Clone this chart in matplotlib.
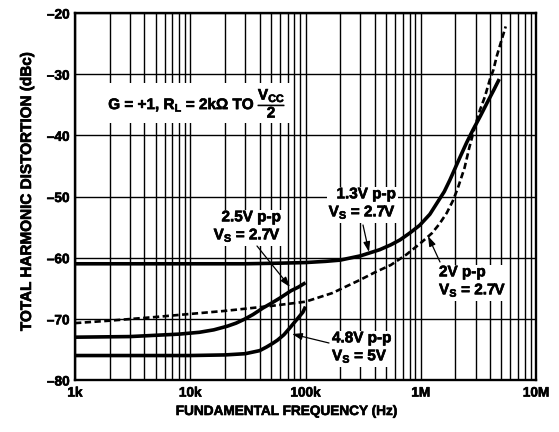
import numpy as np
import matplotlib
matplotlib.use("Agg")
import matplotlib.pyplot as plt
import matplotlib.patheffects as pe
from matplotlib.ticker import FixedLocator, NullFormatter, LogLocator

plt.rcParams['font.family'] = ['Liberation Sans', 'DejaVu Sans']
plt.rcParams['font.weight'] = 'bold'
plt.rcParams['mathtext.fontset'] = 'custom'
plt.rcParams['mathtext.rm'] = 'Liberation Sans:bold'
plt.rcParams['mathtext.it'] = 'Liberation Sans:bold'
plt.rcParams['mathtext.bf'] = 'Liberation Sans:bold'
plt.rcParams['mathtext.default'] = 'rm'

# ---- data ----
f_13 = [1e3, 1e4, 3e4, 6e4, 1e5, 1.5e5, 2e5, 3e5, 4.4e5, 5.5e5, 6.6e5, 8e5, 9.8e5, 1.2e6,
        1.38e6, 1.6e6, 1.79e6, 2.2e6, 2.5e6, 2.84e6, 3.3e6, 3.76e6, 4.3e6, 4.8e6]
thd_13 = [-61.0, -61.0, -61.0, -60.9, -60.8, -60.6, -60.4, -59.7, -58.7, -57.9, -57.1, -56.0,
          -54.7, -52.9, -51.1, -49.2, -47.3, -43.5, -41.2, -39.1, -36.8, -34.7, -32.6, -30.8]

f_2 = [1e3, 2e3, 5e3, 1e4, 2e4, 5e4, 1e5, 1.7e5, 2.2e5, 3e5, 4e5, 5.5e5, 7.5e5, 1e6, 1.25e6,
       1.45e6, 1.68e6, 1.9e6, 2.1e6, 2.4e6, 2.63e6, 2.95e6, 3.26e6, 3.6e6, 3.99e6, 4.27e6,
       4.56e6, 5.03e6, 5.46e6]
thd_2 = [-70.7, -70.3, -69.7, -69.2, -68.7, -67.9, -67.2, -65.8, -64.8, -63.6, -62.4, -61.2,
         -59.5, -57.6, -56.0, -54.5, -52.7, -50.7, -48.6, -45.3, -42.1, -38.6, -35.9, -33.7,
         -30.8, -29.3, -27.1, -24.4, -22.2]

f_25 = [1e3, 3e3, 8e3, 1.2e4, 1.6e4, 2.1e4, 2.5e4, 3e4, 3.5e4, 4.3e4, 5e4, 6e4, 7.5e4, 8.7e4, 1e5]
thd_25 = [-73.0, -72.9, -72.5, -72.2, -71.8, -71.2, -70.7, -70.0, -69.3, -68.2, -67.5, -66.6,
          -65.4, -64.8, -64.1]

f_48 = [1e3, 1e4, 2e4, 3e4, 4e4, 4.6e4, 5.2e4, 5.7e4, 6.5e4, 7.3e4, 8.5e4, 9.5e4, 1e5]
thd_48 = [-76.0, -76.0, -75.9, -75.7, -75.2, -74.6, -74.0, -73.5, -72.6, -71.5, -70.0, -68.9,
          -68.0]

x_ticks = [1e3, 1e4, 1e5, 1e6, 1e7]
x_labels = ['1k', '10k', '100k', '1M', '10M']
y_ticks = [-80, -70, -60, -50, -40, -30, -20]
y_labels = ['–80', '–70', '–60', '–50', '–40', '–30', '–20']

# ---- figure ----
W, H = 559, 432
fig = plt.figure(figsize=(W / 100, H / 100), dpi=100)
L, R, T, B = 75, 536, 13, 380
ax = fig.add_axes([L / W, 1 - B / H, (R - L) / W, (B - T) / H])
ax.set_xscale('log')
ax.set_xlim(1e3, 1e7)
ax.set_ylim(-80, -20)

def px(x, y):
    """Convert reference pixel position to data coordinates (for annotation placement)."""
    f = 10 ** (3 + 4 * (x - L) / (R - L))
    d = -20 - 60 * (y - T) / (B - T)
    return f, d

heavy = [pe.withStroke(linewidth=0.45, foreground='black')]

ax.xaxis.set_major_locator(FixedLocator(x_ticks))
ax.set_xticklabels(x_labels)
ax.xaxis.set_minor_locator(LogLocator(base=10, subs=np.arange(2, 10)))
ax.xaxis.set_minor_formatter(NullFormatter())
ax.set_yticks(y_ticks)
ax.set_yticklabels(y_labels)
ax.tick_params(which='both', length=0, labelsize=9.8, pad=4)
for lab in ax.get_xticklabels() + ax.get_yticklabels():
    lab.set_fontweight('bold')
    lab.set_path_effects(heavy)

ax.grid(which='major', axis='both', color='black', lw=1.0)
ax.grid(which='minor', axis='x', color='black', lw=1.0)
for s in ax.spines.values():
    s.set_linewidth(1.7)

ax.plot(f_13, thd_13, color='black', lw=2.6, zorder=5, solid_capstyle='butt', solid_joinstyle='round')
ax.plot(f_25, thd_25, color='black', lw=2.6, zorder=5, solid_capstyle='butt', solid_joinstyle='round')
ax.plot(f_48, thd_48, color='black', lw=2.6, zorder=5, solid_capstyle='butt', solid_joinstyle='round')
ax.plot(f_2, thd_2, color='black', lw=1.9, ls=(0, (2.4, 1.3)), zorder=5)

box = dict(facecolor='white', edgecolor='none', pad=1.5)
tsize = 11

ax.text(*px(197, 103), r"G = +1, R$_{L}$ = 2kΩ TO $\dfrac{V_{CC}}{2}$", fontsize=tsize,
        fontweight='bold', ha='center', va='center', zorder=4, path_effects=heavy,
        bbox=dict(facecolor='white', edgecolor='none', pad=3))

ax.text(*px(396, 204), "1.3V p-p\nV$_{S}$ = 2.7V", fontsize=tsize, fontweight='bold',
        ha='right', va='center', multialignment='right', linespacing=1.25, zorder=4,
        bbox=box, path_effects=heavy)
ax.text(*px(281, 227), "2.5V p-p\nV$_{S}$ = 2.7V", fontsize=tsize, fontweight='bold',
        ha='right', va='center', multialignment='right', linespacing=1.25, zorder=4,
        bbox=box, path_effects=heavy)
ax.text(*px(439, 282), "2V p-p\nV$_{S}$ = 2.7V", fontsize=tsize, fontweight='bold',
        ha='left', va='center', multialignment='left', linespacing=1.25, zorder=4,
        bbox=box, path_effects=heavy)
ax.text(*px(332, 348), "4.8V p-p\nV$_{S}$ = 5V", fontsize=tsize, fontweight='bold',
        ha='left', va='center', multialignment='left', linespacing=1.25, zorder=4,
        bbox=box, path_effects=heavy)

arrow = dict(arrowstyle='-|>,head_length=0.6,head_width=0.2', color='black', lw=0.9,
             shrinkA=0, shrinkB=0)
for tail, head in [((363, 225), (369, 252)),
                   ((257, 246), (290, 287)),
                   ((440, 262), (428, 236)),
                   ((329, 343), (292, 334))]:
    ax.annotate('', xy=px(*head), xytext=px(*tail), arrowprops=arrow, zorder=6)

fig.text(27 / W, 1 - 192 / H, 'TOTAL HARMONIC DISTORTION (dBc)', rotation=90,
         ha='center', va='center', fontsize=11, fontweight='bold', path_effects=heavy)
fig.text(286 / W, 1 - 411 / H, 'FUNDAMENTAL FREQUENCY (Hz)', ha='center', va='center',
         fontsize=9.8, fontweight='bold', path_effects=heavy)

fig.savefig('out.png', dpi=100, facecolor='white')
